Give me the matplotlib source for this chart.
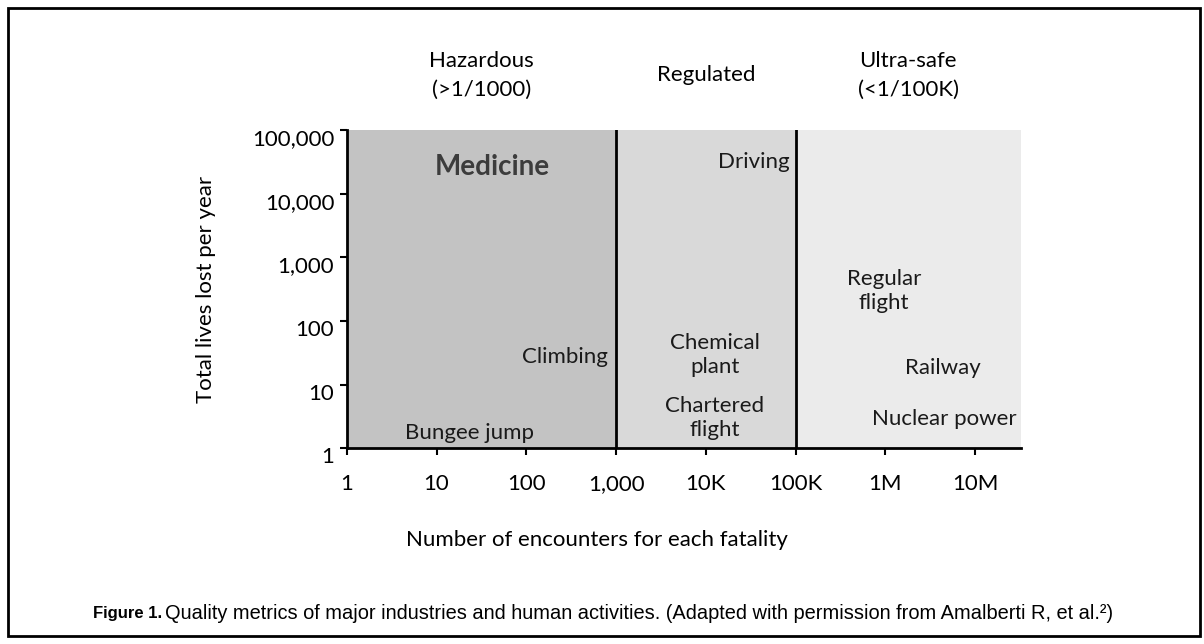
import matplotlib.pyplot as plt
from matplotlib.patches import Rectangle
from matplotlib.transforms import blended_transform_factory, ScaledTranslation

plt.rcParams['font.family'] = ['Lato', 'DejaVu Sans']

# axis ticks
x_ticks = [1, 10, 100, 1e3, 1e4, 1e5, 1e6, 1e7]
x_tick_labels = ['1', '10', '100', '1,000', '10K', '100K', '1M', '10M']
y_ticks = [1, 10, 100, 1e3, 1e4, 1e5]
y_tick_labels = ['1', '10', '100', '1,000', '10,000', '100,000']

# safety zones (encounters per fatality)
zone_edges = [1, 1e3, 1e5, 10 ** 7.51]
zone_names = ['Hazardous\n(>1/1000)', 'Regulated', 'Ultra-safe\n(<1/100K)']
zone_colors = ['#c3c3c3', '#d9d9d9', '#ebebeb']

# activities: encounters per fatality, lives lost per year
activities = ['Medicine', 'Driving', 'Climbing', 'Bungee jump', 'Chemical\nplant',
              'Chartered\nflight', 'Regular\nflight', 'Railway', 'Nuclear power']
act_x = [42, 85000, 800, 23, 12500, 12500, 9.7e5, 4.4e6, 2.9e7]
act_y = [26000, 31000, 27, 1.75, 29, 3.0, 300, 18, 2.9]
act_ha = ['center', 'right', 'right', 'center', 'center', 'center', 'center', 'center', 'right']

fig = plt.figure(figsize=(12.04, 6.44), dpi=100)
ax = fig.add_axes([0.288, 0.304, 0.56, 0.494])

for i in range(len(zone_names)):
    ax.axvspan(zone_edges[i], zone_edges[i + 1], color=zone_colors[i], lw=0, zorder=0)
for edge in zone_edges[1:3]:
    ax.axvline(edge, color='black', lw=2, zorder=2)

ax.set_xscale('log')
ax.set_yscale('log')
ax.set_xlim(zone_edges[0], zone_edges[-1])
ax.set_ylim(1, 1e5)
ax.set_xticks(x_ticks)
ax.set_xticklabels(x_tick_labels, va='baseline')
ax.set_yticks(y_ticks)
ax.set_yticklabels(y_tick_labels)
ax.minorticks_off()
ax.tick_params(labelsize=16, length=5, width=1.5)
ax.tick_params(axis='x', pad=25)
ax.tick_params(axis='y', pad=4)

# y labels sit a little below their ticks in the original
shift = ScaledTranslation(0, -5 / 72, fig.dpi_scale_trans)
for lab in ax.get_yticklabels():
    lab.set_transform(lab.get_transform() + shift)

for s in ['top', 'right']:
    ax.spines[s].set_visible(False)
for s in ['left', 'bottom']:
    ax.spines[s].set_linewidth(2)

ax.set_ylabel('Total lives lost per year', fontsize=16, labelpad=26)

for i in range(len(activities)):
    if activities[i] == 'Medicine':
        ax.text(act_x[i], act_y[i], activities[i], ha='center', va='center',
                fontsize=20, fontweight='bold', color='#3c3c3c')
    else:
        ax.text(act_x[i], act_y[i], activities[i], ha=act_ha[i], va='center',
                fontsize=16, color='#1a1a1a', linespacing=1.25, multialignment='center')

trans = blended_transform_factory(ax.transData, ax.transAxes)
for i in range(len(zone_names)):
    xc = (zone_edges[i] * zone_edges[i + 1]) ** 0.5
    ax.text(xc, 1.173, zone_names[i], transform=trans, ha='center', va='center',
            fontsize=16, linespacing=1.55)

fig.text(0.496, 0.161, 'Number of encounters for each fatality', ha='center', va='center', fontsize=16)

cap_font = ['Liberation Sans', 'DejaVu Sans']
fig.text(0.077, 0.047, 'Figure 1.', family=cap_font, fontweight='bold', fontsize=12, va='center')
fig.text(0.137, 0.047, 'Quality metrics of major industries and human activities. '
         '(Adapted with permission from Amalberti R, et al.\u00b2)',
         family=cap_font, fontsize=14.4, va='center')

fig.patches.append(Rectangle((0.007, 0.012), 0.99, 0.976, transform=fig.transFigure,
                             fill=False, edgecolor='black', lw=2))

fig.savefig('out.png', dpi=100)
